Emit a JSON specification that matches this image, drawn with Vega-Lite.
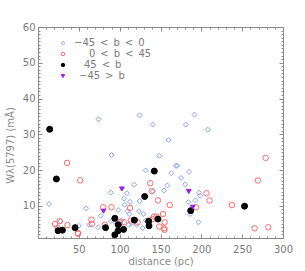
{
  "$schema": "https://vega.github.io/schema/vega-lite/v6.json",
  "width": 245,
  "height": 211,
  "autosize": {"type": "none"},
  "padding": {"left": 38, "top": 27, "right": 22, "bottom": 33},
  "background": "white",
  "config": {
    "view": {"stroke": "#8a8a8a", "strokeWidth": 1},
    "axis": {"grid": false, "domain": false, "tickColor": "#8a8a8a", "labelColor": "#7a7a7a", "titleColor": "#8a8a8a", "labelFont": "DejaVu Sans", "titleFont": "DejaVu Sans", "labelFontSize": 10, "titleFontSize": 10, "titleFontWeight": "normal"},
    "legend": {"labelFont": "DejaVu Sans", "labelFontSize": 10, "labelColor": "#7a7a7a"}
  },
  "data": {"values": [
    {"d": 13.5, "w": 10.5, "b": "-45<b<0"},
    {"d": 27.4, "w": 5.7, "b": "-45<b<0"},
    {"d": 49.9, "w": 4.4, "b": "-45<b<0"},
    {"d": 58.9, "w": 9.3, "b": "-45<b<0"},
    {"d": 62.6, "w": 4.7, "b": "-45<b<0"},
    {"d": 73.7, "w": 4.0, "b": "-45<b<0"},
    {"d": 74.1, "w": 34.2, "b": "-45<b<0"},
    {"d": 76.9, "w": 7.2, "b": "-45<b<0"},
    {"d": 89.2, "w": 13.7, "b": "-45<b<0"},
    {"d": 90.0, "w": 24.2, "b": "-45<b<0"},
    {"d": 89.2, "w": 5.7, "b": "-45<b<0"},
    {"d": 93.3, "w": 5.7, "b": "-45<b<0"},
    {"d": 98.2, "w": 8.8, "b": "-45<b<0"},
    {"d": 99.5, "w": 4.7, "b": "-45<b<0"},
    {"d": 101.9, "w": 5.9, "b": "-45<b<0"},
    {"d": 105.2, "w": 12.0, "b": "-45<b<0"},
    {"d": 106.0, "w": 10.3, "b": "-45<b<0"},
    {"d": 108.9, "w": 13.5, "b": "-45<b<0"},
    {"d": 109.7, "w": 8.5, "b": "-45<b<0"},
    {"d": 111.7, "w": 7.7, "b": "-45<b<0"},
    {"d": 112.6, "w": 11.1, "b": "-45<b<0"},
    {"d": 110.9, "w": 4.7, "b": "-45<b<0"},
    {"d": 114.6, "w": 5.1, "b": "-45<b<0"},
    {"d": 117.9, "w": 15.9, "b": "-45<b<0"},
    {"d": 120.7, "w": 4.7, "b": "-45<b<0"},
    {"d": 123.6, "w": 8.5, "b": "-45<b<0"},
    {"d": 124.4, "w": 11.3, "b": "-45<b<0"},
    {"d": 124.4, "w": 35.3, "b": "-45<b<0"},
    {"d": 128.1, "w": 3.8, "b": "-45<b<0"},
    {"d": 128.9, "w": 7.7, "b": "-45<b<0"},
    {"d": 131.8, "w": 19.9, "b": "-45<b<0"},
    {"d": 132.2, "w": 5.9, "b": "-45<b<0"},
    {"d": 140.4, "w": 32.7, "b": "-45<b<0"},
    {"d": 140.8, "w": 14.1, "b": "-45<b<0"},
    {"d": 148.6, "w": 24.0, "b": "-45<b<0"},
    {"d": 154.3, "w": 14.3, "b": "-45<b<0"},
    {"d": 158.4, "w": 15.7, "b": "-45<b<0"},
    {"d": 160.0, "w": 28.4, "b": "-45<b<0"},
    {"d": 163.3, "w": 19.1, "b": "-45<b<0"},
    {"d": 169.0, "w": 21.2, "b": "-45<b<0"},
    {"d": 170.3, "w": 21.2, "b": "-45<b<0"},
    {"d": 175.2, "w": 17.8, "b": "-45<b<0"},
    {"d": 180.1, "w": 16.0, "b": "-45<b<0"},
    {"d": 180.9, "w": 32.7, "b": "-45<b<0"},
    {"d": 184.2, "w": 11.0, "b": "-45<b<0"},
    {"d": 185.0, "w": 19.5, "b": "-45<b<0"},
    {"d": 186.2, "w": 7.7, "b": "-45<b<0"},
    {"d": 191.5, "w": 35.5, "b": "-45<b<0"},
    {"d": 192.8, "w": 11.5, "b": "-45<b<0"},
    {"d": 196.5, "w": 5.4, "b": "-45<b<0"},
    {"d": 197.3, "w": 13.7, "b": "-45<b<0"},
    {"d": 198.5, "w": 12.8, "b": "-45<b<0"},
    {"d": 207.9, "w": 31.3, "b": "-45<b<0"},
    {"d": 20.9, "w": 4.9, "b": "0<b<45"},
    {"d": 24.1, "w": 3.8, "b": "0<b<45"},
    {"d": 26.6, "w": 5.7, "b": "0<b<45"},
    {"d": 36.0, "w": 4.6, "b": "0<b<45"},
    {"d": 35.6, "w": 22.0, "b": "0<b<45"},
    {"d": 48.7, "w": 2.4, "b": "0<b<45"},
    {"d": 49.1, "w": 2.2, "b": "0<b<45"},
    {"d": 51.6, "w": 17.1, "b": "0<b<45"},
    {"d": 65.5, "w": 6.1, "b": "0<b<45"},
    {"d": 65.9, "w": 4.9, "b": "0<b<45"},
    {"d": 79.8, "w": 9.6, "b": "0<b<45"},
    {"d": 81.9, "w": 4.7, "b": "0<b<45"},
    {"d": 90.0, "w": 9.6, "b": "0<b<45"},
    {"d": 100.3, "w": 5.4, "b": "0<b<45"},
    {"d": 105.2, "w": 5.4, "b": "0<b<45"},
    {"d": 112.6, "w": 9.4, "b": "0<b<45"},
    {"d": 113.8, "w": 5.9, "b": "0<b<45"},
    {"d": 118.7, "w": 6.0, "b": "0<b<45"},
    {"d": 122.0, "w": 5.4, "b": "0<b<45"},
    {"d": 137.5, "w": 16.3, "b": "0<b<45"},
    {"d": 139.2, "w": 14.1, "b": "0<b<45"},
    {"d": 140.4, "w": 6.3, "b": "0<b<45"},
    {"d": 142.0, "w": 7.0, "b": "0<b<45"},
    {"d": 145.3, "w": 7.0, "b": "0<b<45"},
    {"d": 146.9, "w": 11.5, "b": "0<b<45"},
    {"d": 148.6, "w": 4.2, "b": "0<b<45"},
    {"d": 153.1, "w": 7.7, "b": "0<b<45"},
    {"d": 155.1, "w": 5.4, "b": "0<b<45"},
    {"d": 154.3, "w": 3.7, "b": "0<b<45"},
    {"d": 155.1, "w": 3.3, "b": "0<b<45"},
    {"d": 161.3, "w": 10.2, "b": "0<b<45"},
    {"d": 193.6, "w": 9.6, "b": "0<b<45"},
    {"d": 206.3, "w": 13.5, "b": "0<b<45"},
    {"d": 210.0, "w": 11.5, "b": "0<b<45"},
    {"d": 237.4, "w": 10.2, "b": "0<b<45"},
    {"d": 265.2, "w": 3.7, "b": "0<b<45"},
    {"d": 269.3, "w": 17.1, "b": "0<b<45"},
    {"d": 278.7, "w": 23.4, "b": "0<b<45"},
    {"d": 282.0, "w": 4.0, "b": "0<b<45"},
    {"d": 14.3, "w": 31.4, "b": "45<b"},
    {"d": 22.5, "w": 17.5, "b": "45<b"},
    {"d": 24.6, "w": 3.05, "b": "45<b"},
    {"d": 29.9, "w": 3.2, "b": "45<b"},
    {"d": 45.4, "w": 3.9, "b": "45<b"},
    {"d": 82.7, "w": 3.9, "b": "45<b"},
    {"d": 94.1, "w": 6.5, "b": "45<b"},
    {"d": 94.1, "w": 1.9, "b": "45<b"},
    {"d": 98.2, "w": 4.7, "b": "45<b"},
    {"d": 98.2, "w": 3.05, "b": "45<b"},
    {"d": 104.8, "w": 3.4, "b": "45<b"},
    {"d": 117.9, "w": 6.0, "b": "45<b"},
    {"d": 130.6, "w": 12.6, "b": "45<b"},
    {"d": 135.5, "w": 5.7, "b": "45<b"},
    {"d": 135.9, "w": 4.4, "b": "45<b"},
    {"d": 142.4, "w": 19.7, "b": "45<b"},
    {"d": 146.9, "w": 6.3, "b": "45<b"},
    {"d": 187.0, "w": 8.65, "b": "45<b"},
    {"d": 252.9, "w": 9.9, "b": "45<b"},
    {"d": 80.2, "w": 8.5, "b": "-45>b"},
    {"d": 102.7, "w": 14.7, "b": "-45>b"},
    {"d": 184.6, "w": 14.0, "b": "-45>b"},
    {"d": 189.5, "w": 9.6, "b": "-45>b"}
  ]},
  "resolve": {"axis": {"x": "independent", "y": "independent"}},
  "layer": [
    {
      "mark": {"type": "point", "strokeWidth": 1, "opacity": 1},
      "encoding": {
        "x": {"field": "d", "type": "quantitative", "scale": {"domain": [0, 300], "nice": false, "zero": false},
              "axis": {"orient": "bottom", "values": [0, 50, 100, 150, 200, 250, 300], "tickSize": -4, "labelPadding": 10, "labelExpr": "datum.value == 0 ? '' : datum.label", "title": "distance (pc)", "titleY": 23, "titleBaseline": "middle", "labelFlush": false}},
        "y": {"field": "w", "type": "quantitative", "scale": {"domain": [1, 60], "nice": false, "zero": false},
              "axis": {"orient": "left", "values": [10, 20, 30, 40, 50, 60], "tickSize": -4, "labelPadding": 7, "title": "Wλ(5797) (mÅ)", "titleX": -28, "titleY": 118, "titleAngle": -90, "titleAlign": "center", "titleBaseline": "middle", "labelFlush": false}},
        "shape": {"field": "b", "type": "nominal", "scale": {"domain": ["-45<b<0", "0<b<45", "45<b", "-45>b"], "range": ["diamond", "circle", "circle", "triangle-down"]},
                   "legend": {"orient": "none", "legendX": 20, "legendY": 11, "title": null, "symbolSize": 12, "symbolStrokeWidth": 1, "labelOffset": 6, "rowPadding": 1, "padding": 0,
                              "labelExpr": "datum.value == '-45<b<0' ? '−45\u2002<\u2002b\u2002<\u20020' : datum.value == '0<b<45' ? '\u200b\u2002\u2002\u20020\u2002<\u2002b\u2002<\u200245' : datum.value == '45<b' ? '\u200b\u2002\u200245\u2002<\u2002b' : '\u200b\u2002−45\u2002>\u2002b'"}},
        "stroke": {"field": "b", "type": "nominal", "scale": {"domain": ["-45<b<0", "0<b<45", "45<b", "-45>b"], "range": ["#8aa2f5", "#ff6a6a", "#000000", "#9a1ee6"]}},
        "fill": {"field": "b", "type": "nominal", "scale": {"domain": ["-45<b<0", "0<b<45", "45<b", "-45>b"], "range": ["transparent", "transparent", "#000000", "#9a1ee6"]}},
        "size": {"condition": [{"test": "datum.b == '45<b'", "value": 36}, {"test": "datum.b == '0<b<45'", "value": 30}, {"test": "datum.b == '-45>b'", "value": 22}], "value": 25}
      }
    },
    {
      "mark": {"type": "point", "opacity": 0},
      "encoding": {
        "x": {"field": "d", "type": "quantitative", "axis": {"orient": "bottom", "values": [10,20,30,40,60,70,80,90,110,120,130,140,160,170,180,190,210,220,230,240,260,270,280,290], "tickSize": -2, "labels": false, "title": null}},
        "y": {"field": "w", "type": "quantitative", "axis": {"orient": "left", "values": [1,2,3,4,5,6,7,8,9,11,12,13,14,15,16,17,18,19,21,22,23,24,25,26,27,28,29,31,32,33,34,35,36,37,38,39,41,42,43,44,45,46,47,48,49,51,52,53,54,55,56,57,58,59], "tickSize": -2, "labels": false, "title": null}}
      }
    },
    {
      "mark": {"type": "point", "opacity": 0},
      "encoding": {
        "x": {"field": "d", "type": "quantitative", "axis": {"orient": "top", "values": [50, 100, 150, 200, 250], "tickSize": -4, "labels": false, "title": null}},
        "y": {"field": "w", "type": "quantitative", "axis": {"orient": "right", "values": [10, 20, 30, 40, 50], "tickSize": -4, "labels": false, "title": null}}
      }
    },
    {
      "mark": {"type": "point", "opacity": 0},
      "encoding": {
        "x": {"field": "d", "type": "quantitative", "axis": {"orient": "top", "values": [10,20,30,40,60,70,80,90,110,120,130,140,160,170,180,190,210,220,230,240,260,270,280,290], "tickSize": -2, "labels": false, "title": null}},
        "y": {"field": "w", "type": "quantitative", "axis": {"orient": "right", "values": [1,2,3,4,5,6,7,8,9,11,12,13,14,15,16,17,18,19,21,22,23,24,25,26,27,28,29,31,32,33,34,35,36,37,38,39,41,42,43,44,45,46,47,48,49,51,52,53,54,55,56,57,58,59], "tickSize": -2, "labels": false, "title": null}}
      }
    }
  ]
}
